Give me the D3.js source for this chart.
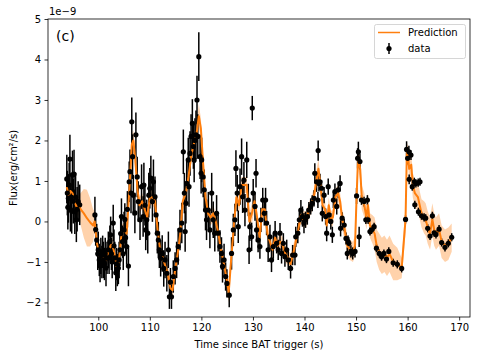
<!DOCTYPE html>
<html>
<head>
<meta charset="utf-8">
<script src="https://cdn.jsdelivr.net/npm/d3@7"></script>
<style>
  body { margin: 0; background: #fff; }
  svg text { font-family: "DejaVu Sans", sans-serif; fill: #000; }
</style>
</head>
<body>
<div id="chart"></div>
<script>
var width = 478;
var height = 358;

// observed light curve (flux in units of 1e-9 erg/cm^2/s)
var dataTime = [
  93.9, 94.0, 94.1, 94.2, 94.35, 94.5, 94.6, 94.75, 94.85, 95.0, 95.15, 95.3, 95.45, 95.6, 95.75, 95.9, 96.1, 96.4,
  99.35, 99.5, 99.7, 99.9, 100.0, 100.2, 100.35, 100.5, 100.7, 100.85, 101.0, 101.2, 101.35, 101.5, 101.7, 101.95,
  102.1, 102.25, 102.4, 102.55, 102.7, 102.9, 103.05, 103.2, 103.4, 103.55, 103.7, 103.9, 104.05, 104.2, 104.35,
  104.5, 104.7, 104.85, 105.0, 105.15, 105.3, 105.5, 105.65, 105.85,
  106.0, 106.15, 106.35, 106.5, 106.65, 106.8, 107.1, 107.3, 107.55, 107.75, 108.1, 108.4, 108.7, 108.85, 109.05,
  109.2, 109.4, 109.6, 109.8, 110.0, 110.2, 110.5, 110.7, 111.0, 111.2, 111.45, 111.65, 111.85, 112.1, 112.4, 112.7,
  112.95, 113.3, 113.6, 113.8, 114.0, 114.2, 114.55, 114.9, 115.2, 115.5, 115.85, 116.2, 116.5, 116.7, 116.85, 117.0,
  117.15, 117.45, 117.6, 117.8, 118.0, 118.25, 118.45, 118.6, 118.75, 118.95, 119.15, 119.3, 119.5, 119.75, 119.95,
  120.05, 120.35, 120.55, 120.8, 121.0, 121.35, 121.65, 122.0, 122.3, 122.6, 122.95, 123.25, 123.6, 123.9, 124.1,
  124.4, 124.7, 124.95, 125.4, 125.85, 126.2, 126.5, 126.7, 126.95, 127.15, 127.5, 127.8, 128.0, 128.25, 128.45,
  128.8, 129.1, 129.25, 129.4, 129.75, 129.87, 130.05, 130.4, 130.6, 130.7,
  131.0, 131.35, 131.55, 131.9, 132.2, 132.45, 132.65, 132.95, 133.3, 133.6, 133.95, 134.3, 134.6, 134.9, 135.25,
  135.55, 135.9, 136.2, 136.55, 136.85, 137.3, 137.7, 138.15, 138.3, 138.7, 139.0, 139.3, 139.6, 139.9, 140.2,
  140.55, 140.85, 141.2, 141.5, 141.85, 142.0, 142.35, 142.6, 142.65, 142.8, 143.0, 143.3, 143.45, 143.8, 144.1,
  144.3, 144.6, 144.75, 145.1, 145.4, 145.6, 145.9, 146.25, 146.55, 146.9, 147.0, 147.3, 147.7, 148.05, 148.3,
  148.45, 148.6, 149.0, 149.35, 149.8, 150.1, 150.3, 150.45, 150.6, 150.75,
  151.05, 151.55, 151.9, 152.2, 152.35, 152.7, 153.0, 153.5, 153.95, 154.5, 154.95, 155.4, 155.9, 156.35, 157.2,
  158.0, 158.85, 159.6, 159.8, 160.0, 160.25, 160.3, 160.65, 160.9, 161.3, 161.4, 161.6, 162.05, 162.1, 162.4,
  162.7, 163.2, 163.5, 163.9, 164.35, 164.8, 165.15, 165.5, 166.1, 166.6, 167.25, 167.9, 168.55
];
var dataFlux = [
  1.05, 0.7, 0.35, 0.57, 0.9, 1.54, 0.3, 0.6, 0.25, 1.15, 0.5, 1.17, 0.24, 0.6, 0.04, 0.3, 0.49, 0.41,
  0.16, -0.2, -0.46, -0.8, -0.7, -0.95, -1.1, -0.85, -1.0, -0.75, -0.95, -1.05, -0.8, -1.15, -0.9, -0.7,
  -0.9, -0.5, -0.33, -0.8, -1.0, -0.04, -0.6, -0.9, -1.27, -1.05, -1.2, -1.15, -0.95, -0.7, -0.3,
  0.12, -0.5, -0.8, -0.21, 0.05, -0.4, -0.62, 0.3, -1.1,
  0.98, 1.23, 0.7, 2.46, 1.6, 0.65, 0.21, 2.14, 1.1, 0.49, 0.04, 0.86, 0.12, 0.9, 0.4,
  -0.21, 0.04, -0.29, 0.65, 0.82, 1.07, 0.49, 0.98, 0.61, 0.16, -0.29, -0.46, -0.7, -0.91, -0.79, -1.16,
  -0.95, -1.28, -0.7, -1.86, -1.5, -1.86, -1.36, -1.16, -0.95, -0.62, -0.21, -0.04, 1.72, 0.7, -0.25, 0.45,
  0.94, 1.52, 0.86, 1.68, 2.1, 2.42, 1.85, 1.52, 2.0, 2.14, 3.0, 2.1, 4.07, 1.6, 1.19,
  1.52, 1.1, 0.78, 0.28, 0.04, 0.28, -0.21, 0.7, 0.04, -0.29, 0.2, -0.29, -0.62, -0.79, -1.11,
  -0.95, -1.36, -1.53, -1.82, -0.79, -0.21, 0.04, 1.31, 0.7, -0.13, 0.86, 1.6, 0.61, 1.02, 0.28,
  1.52, 0.53, -0.7, -0.13, -0.38, 2.8, 0.7, 0.37, 1.19, -0.21,
  -0.46, -0.62, 0.04, 0.53, 0.2, 0.53, -0.04, -0.7, -0.38, -0.95, -0.62, -0.29, -0.54, -0.7, -0.29,
  -0.79, -0.54, -0.87, -0.7, -0.95, -1.16, -0.83, -0.83, -0.38, -0.29, 0.04, 0.28, 0.12, -0.04, 0.04,
  0.12, 0.28, 0.37, 0.45, 0.57, 1.19, 0.98, 0.53, 1.75, 0.94, 0.98, 0.82, 0.2, 0.65, 0.12,
  -0.29, 0.86, 0.16, 0.0, -0.33, 0.53, 0.74, 0.37, 0.78, 0.94, -0.17, 0.08, -0.09, -0.42, -0.79,
  -0.5, -0.54, -0.74, -0.79, -0.74, 0.63, 1.56, 1.72, -0.38, 1.48,
  0.53, 0.49, 0.04, 0.53, 0.04, -0.25, -0.21, -0.13, -0.66, -0.79, -0.87, -0.79, -0.93, -0.74, -1.02,
  -1.06, -1.16, 0.05, 1.78, 1.56, 1.72, 1.04, 1.64, 0.86, 0.98, 0.41, 0.94, 0.96, 0.24, 0.98,
  0.14, 0.1, 0.08, -0.17, -0.36, 0.14, -0.28, -0.32, -0.19, -0.52, -0.64, -0.54, -0.39
];
var dataErr = [
  0.6, 0.55, 0.55, 0.6, 0.55, 0.6, 0.55, 0.6, 0.55, 0.6, 0.55, 0.6, 0.55, 0.6, 0.55, 0.55, 0.5, 0.5,
  0.45, 0.4, 0.4, 0.4, 0.45, 0.4, 0.4, 0.45, 0.4, 0.4, 0.45, 0.4, 0.4, 0.45, 0.4, 0.45,
  0.4, 0.4, 0.45, 0.4, 0.4, 0.45, 0.4, 0.4, 0.45, 0.4, 0.4, 0.4, 0.45, 0.4, 0.4,
  0.45, 0.4, 0.4, 0.45, 0.4, 0.4, 0.45, 0.45, 0.5,
  0.5, 0.55, 0.5, 0.6, 0.55, 0.5, 0.5, 0.55, 0.5, 0.5, 0.5, 0.55, 0.5, 0.55, 0.5,
  0.5, 0.5, 0.5, 0.55, 0.5, 0.55, 0.5, 0.55, 0.5, 0.5, 0.5, 0.45, 0.45, 0.45, 0.45, 0.45,
  0.45, 0.45, 0.45, 0.3, 0.35, 0.3, 0.4, 0.4, 0.45, 0.45, 0.5, 0.5, 0.55, 0.5, 0.5, 0.5,
  0.55, 0.55, 0.5, 0.55, 0.55, 0.6, 0.55, 0.55, 0.55, 0.6, 0.6, 0.55, 0.6, 0.55, 0.5,
  0.55, 0.5, 0.5, 0.5, 0.5, 0.45, 0.45, 0.5, 0.45, 0.45, 0.45, 0.45, 0.4, 0.4, 0.4,
  0.4, 0.35, 0.35, 0.3, 0.4, 0.4, 0.4, 0.45, 0.45, 0.4, 0.45, 0.45, 0.4, 0.45, 0.4,
  0.45, 0.4, 0.35, 0.35, 0.35, 0.3, 0.35, 0.35, 0.35, 0.3,
  0.3, 0.3, 0.3, 0.3, 0.3, 0.3, 0.3, 0.3, 0.3, 0.3, 0.3, 0.3, 0.25, 0.25, 0.25,
  0.25, 0.25, 0.25, 0.25, 0.25, 0.25, 0.25, 0.25, 0.25, 0.25, 0.25, 0.25, 0.25, 0.25, 0.2,
  0.2, 0.2, 0.2, 0.2, 0.2, 0.25, 0.25, 0.2, 0.25, 0.2, 0.2, 0.2, 0.2, 0.2, 0.2,
  0.2, 0.2, 0.2, 0.2, 0.2, 0.2, 0.2, 0.2, 0.2, 0.2, 0.2, 0.15, 0.15, 0.15, 0.15,
  0.15, 0.15, 0.15, 0.15, 0.15, 0.2, 0.25, 0.25, 0.25, 0.2,
  0.12, 0.12, 0.1, 0.12, 0.1, 0.1, 0.1, 0.1, 0.1, 0.1, 0.1, 0.1, 0.1, 0.1, 0.1,
  0.1, 0.1, 0.1, 0.2, 0.15, 0.15, 0.12, 0.12, 0.1, 0.1, 0.1, 0.1, 0.1, 0.1, 0.1,
  0.1, 0.1, 0.1, 0.1, 0.1, 0.1, 0.1, 0.1, 0.1, 0.1, 0.1, 0.1, 0.1
];

// model prediction and its 1-sigma band
var predTime = [
  93.9, 94.3, 94.6, 95.0, 95.4, 95.8, 96.2, 96.6, 97.2, 97.8, 98.4, 99.0, 99.3, 99.7, 100.2, 100.8, 101.4, 102.0,
  102.5, 103.0, 103.5, 104.0, 104.5, 105.0, 105.5, 106.0, 106.5, 106.8, 107.2, 107.6, 108.0, 108.5, 109.0, 109.5,
  110.0, 110.5, 111.0, 111.5, 112.0, 112.5, 113.0, 113.5, 114.0, 114.4, 114.9, 115.4, 115.9, 116.4, 117.0, 117.5,
  118.0, 118.5, 119.0, 119.5, 119.9, 120.3, 120.8, 121.3, 121.8, 122.3, 122.8, 123.3, 123.8, 124.3, 124.8, 125.3,
  125.8, 126.3, 126.8, 127.3, 127.8, 128.3, 128.8, 129.3, 129.8, 130.3, 130.8, 131.3, 131.8, 132.3, 132.8, 133.3,
  133.8, 134.3, 134.8, 135.3, 135.8, 136.3, 136.8, 137.3, 137.8, 138.3, 138.8, 139.3, 139.8, 140.3, 140.8, 141.3,
  141.8, 142.3, 142.7, 143.1, 143.5, 144.0, 144.3, 144.7, 145.1, 145.5, 146.0, 146.5, 146.9, 147.3, 147.8, 148.3,
  148.8, 149.4, 149.8, 150.1, 150.4, 150.8, 151.1, 151.6, 152.0, 152.3, 152.7, 153.2, 153.6, 154.0, 154.5, 155.0,
  155.5, 156.0, 156.5, 157.2, 158.0, 158.85, 159.6, 159.85, 160.1, 160.3, 160.7, 161.0, 161.4, 162.0, 162.7, 163.2,
  163.5, 163.9, 164.35, 164.8, 165.15, 165.5, 166.1, 166.6, 167.25, 167.9, 168.55
];
var predFlux = [
  0.85, 0.6, 0.75, 0.7, 0.5, 0.35, 0.4, 0.3, 0.2, 0.08, -0.02, -0.1, 0.0, -0.5, -0.85, -0.9, -0.95, -0.75,
  -0.55, -0.7, -1.1, -1.0, -0.3, -0.2, -0.3, 0.7, 1.9, 2.0, 1.5, 0.8, 0.4, 0.5, 0.3, 0.1,
  0.6, 0.6, 0.5, -0.2, -0.7, -0.9, -1.1, -1.3, -1.65, -1.7, -1.2, -0.8, -0.3, 0.5, 0.7, 1.1,
  1.6, 1.9, 2.1, 2.6, 2.3, 1.5, 0.6, 0.2, 0.1, 0.2, 0.0, -0.3, -0.7, -1.0, -1.35, -1.75,
  -0.9, -0.1, 0.6, 0.4, 0.9, 0.9, 0.9, 0.0, 0.2, 0.5, 0.1, -0.4, 0.3, 0.3, -0.3, -0.5,
  -0.7, -0.4, -0.6, -0.5, -0.6, -0.8, -0.9, -1.05, -0.8, -0.5, -0.2, 0.15, 0.05, 0.05, 0.25, 0.4,
  0.6, 1.0, 1.3, 0.9, 0.4, 0.3, -0.1, 0.4, 0.05, 0.1, 0.6, 0.7, 0.5, 0.05, -0.2, -0.6,
  -0.7, -0.75, -0.6, 0.6, 1.6, 1.3, 0.6, 0.4, 0.1, 0.4, -0.1, -0.2, -0.3, -0.6, -0.75, -0.85,
  -0.8, -0.9, -0.8, -1.0, -1.05, -1.15, 0.05, 1.7, 1.6, 1.3, 1.4, 0.9, 0.7, 0.6, 0.2, 0.1,
  0.05, -0.15, -0.3, 0.05, -0.2, -0.3, -0.2, -0.5, -0.6, -0.55, -0.4
];
var predSigma = [
  0.25, 0.2, 0.2, 0.2, 0.2, 0.2, 0.25, 0.4, 0.6, 0.7, 0.6, 0.4, 0.25, 0.2, 0.2, 0.2, 0.2, 0.2,
  0.2, 0.2, 0.2, 0.2, 0.2, 0.2, 0.2, 0.2, 0.25, 0.25, 0.25, 0.2, 0.2, 0.2, 0.2, 0.2,
  0.2, 0.2, 0.2, 0.2, 0.2, 0.2, 0.2, 0.2, 0.25, 0.25, 0.2, 0.2, 0.2, 0.25, 0.2, 0.2,
  0.2, 0.2, 0.2, 0.3, 0.25, 0.2, 0.2, 0.2, 0.2, 0.2, 0.2, 0.2, 0.2, 0.2, 0.25, 0.25,
  0.25, 0.2, 0.2, 0.2, 0.2, 0.2, 0.2, 0.2, 0.25, 0.2, 0.2, 0.2, 0.2, 0.2, 0.2, 0.2,
  0.2, 0.2, 0.2, 0.2, 0.2, 0.2, 0.2, 0.25, 0.2, 0.2, 0.2, 0.2, 0.2, 0.2, 0.2, 0.2,
  0.2, 0.25, 0.25, 0.2, 0.2, 0.2, 0.2, 0.2, 0.2, 0.2, 0.2, 0.2, 0.2, 0.25, 0.25, 0.25,
  0.25, 0.25, 0.25, 0.25, 0.3, 0.3, 0.3, 0.3, 0.3, 0.3, 0.3, 0.35, 0.4, 0.4, 0.45, 0.45,
  0.45, 0.45, 0.45, 0.45, 0.4, 0.25, 0.35, 0.25, 0.25, 0.3, 0.3, 0.3, 0.35, 0.35, 0.35, 0.4,
  0.4, 0.4, 0.4, 0.4, 0.4, 0.4, 0.4, 0.4, 0.4, 0.4, 0.35
];

var xTicks = [100, 110, 120, 130, 140, 150, 160, 170];
var yTicks = [-2, -1, 0, 1, 2, 3, 4, 5];

var data = dataTime.map(function(t, i) { return {t: t, f: dataFlux[i], e: dataErr[i]}; });
var pred = predTime.map(function(t, i) { return {t: t, f: predFlux[i], s: predSigma[i]}; });

// plot area (window.top is reserved, so use prefixed names)
var plotL = 48, plotR = 470, plotT = 19, plotB = 317;

var xScale = d3.scaleLinear().domain([90.25, 172.1]).range([plotL, plotR]);
var yScale = d3.scaleLinear().domain([-2.36, 5]).range([plotB, plotT]);

var svg = d3.select("#chart").append("svg")
    .attr("width", width)
    .attr("height", height);

var orange = "#ff7f0e";

// prediction band
svg.append("path")
    .datum(pred)
    .attr("fill", orange)
    .attr("fill-opacity", 0.35)
    .attr("d", d3.area()
        .x(function(d) { return xScale(d.t); })
        .y0(function(d) { return yScale(d.f - d.s); })
        .y1(function(d) { return yScale(d.f + d.s); }));

// data error bars
svg.append("g").selectAll("line")
    .data(data)
    .enter()
    .append("line")
    .attr("x1", function(d) { return xScale(d.t); })
    .attr("x2", function(d) { return xScale(d.t); })
    .attr("y1", function(d) { return yScale(d.f - d.e); })
    .attr("y2", function(d) { return yScale(d.f + d.e); })
    .attr("stroke", "black")
    .attr("stroke-width", 1.5);

// prediction line, over the bars but under the markers
svg.append("path")
    .datum(pred)
    .attr("fill", "none")
    .attr("stroke", orange)
    .attr("stroke-width", 2)
    .attr("stroke-linejoin", "round")
    .attr("d", d3.line()
        .x(function(d) { return xScale(d.t); })
        .y(function(d) { return yScale(d.f); }));

svg.append("g").selectAll("circle")
    .data(data)
    .enter()
    .append("circle")
    .attr("cx", function(d) { return xScale(d.t); })
    .attr("cy", function(d) { return yScale(d.f); })
    .attr("r", 2.6)
    .attr("fill", "black");

// axes
var xAxis = d3.axisBottom(xScale).tickValues(xTicks).tickSize(3.5).tickPadding(3.5);
var yAxis = d3.axisLeft(yScale).tickValues(yTicks).tickSize(3.5).tickPadding(3.5)
    .tickFormat(function(d) { return d < 0 ? "\u2212" + Math.abs(d) : d; });

var gx = svg.append("g")
    .attr("transform", "translate(0," + plotB + ")")
    .call(xAxis);
var gy = svg.append("g")
    .attr("transform", "translate(" + plotL + ",0)")
    .call(yAxis);
[gx, gy].forEach(function(g) {
  g.select(".domain").remove();
  g.selectAll("text").attr("font-size", 10).attr("font-family", "DejaVu Sans").attr("fill", "black");
  g.selectAll("line").attr("stroke", "black").attr("stroke-width", 0.8);
});

// frame
svg.append("rect")
    .attr("x", plotL)
    .attr("y", plotT)
    .attr("width", plotR - plotL)
    .attr("height", plotB - plotT)
    .attr("fill", "none")
    .attr("stroke", "black")
    .attr("stroke-width", 0.8);

// labels
svg.append("text")
    .attr("x", (plotL + plotR) / 2)
    .attr("y", 348)
    .attr("text-anchor", "middle")
    .attr("font-size", 10)
    .text("Time since BAT trigger (s)");

svg.append("text")
    .attr("transform", "translate(17," + ((plotT + plotB) / 2) + ") rotate(-90)")
    .attr("text-anchor", "middle")
    .attr("font-size", 10)
    .text("Flux(erg/cm\u00b2/s)");

svg.append("text")
    .attr("x", plotL + 1)
    .attr("y", 15)
    .attr("font-size", 10)
    .text("1e\u22129");

svg.append("text")
    .attr("x", 56)
    .attr("y", 41)
    .attr("font-size", 14)
    .text("(c)");

// legend
var legend = svg.append("g");
legend.append("rect")
    .attr("x", 374.5)
    .attr("y", 24.5)
    .attr("width", 91)
    .attr("height", 34)
    .attr("rx", 2)
    .attr("fill", "white")
    .attr("fill-opacity", 0.8)
    .attr("stroke", "#cccccc")
    .attr("stroke-width", 0.8);
legend.append("line")
    .attr("x1", 378).attr("x2", 400)
    .attr("y1", 32.5).attr("y2", 32.5)
    .attr("stroke", orange)
    .attr("stroke-width", 1.5);
legend.append("text")
    .attr("x", 408).attr("y", 36)
    .attr("font-size", 10)
    .text("Prediction");
legend.append("line")
    .attr("x1", 389).attr("x2", 389)
    .attr("y1", 43).attr("y2", 54)
    .attr("stroke", "black")
    .attr("stroke-width", 1.5);
legend.append("circle")
    .attr("cx", 389).attr("cy", 48.5)
    .attr("r", 2.6)
    .attr("fill", "black");
legend.append("text")
    .attr("x", 408).attr("y", 52)
    .attr("font-size", 10)
    .text("data");
</script>
</body>
</html>
